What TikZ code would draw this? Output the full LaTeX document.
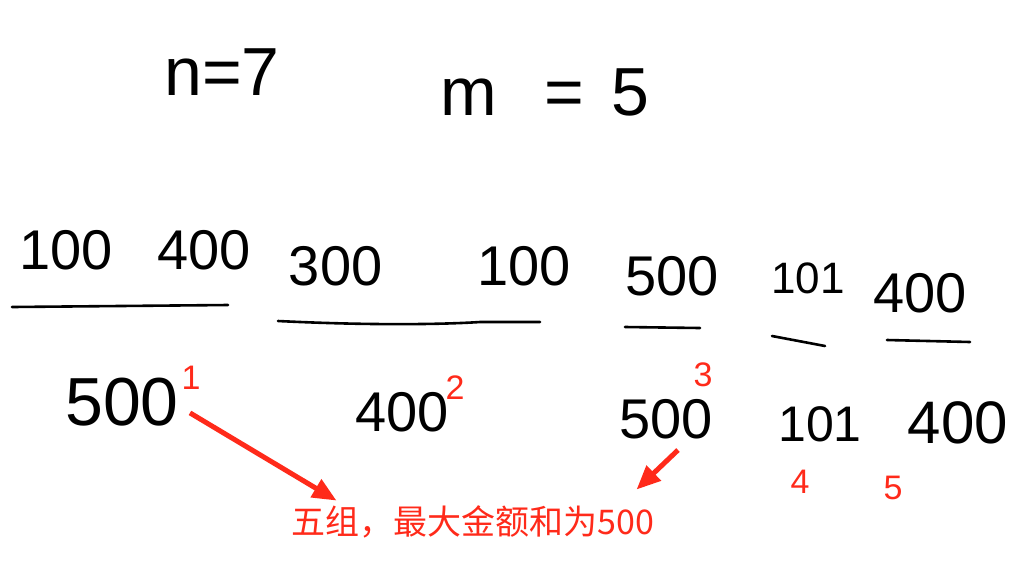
\documentclass[tikz,border=0pt]{standalone}
\usepackage{fontspec}
\setmainfont{Liberation Sans}
\newfontfamily\cjk{Noto Sans CJK SC}
\usetikzlibrary{arrows.meta,positioning}
\definecolor{markred}{HTML}{FF2A1A}

\begin{document}
\begin{tikzpicture}[x=1pt,y=-1pt, every node/.style={inner sep=0pt},
      hand/.style={font=\fontsize{56}{60}\selectfont},
      bighand/.style={font=\fontsize{68}{72}\selectfont},
      groupno/.style={text=markred,font=\fontsize{34}{36}\selectfont},
      stroke/.style={line width=2.6pt,line cap=round,line join=round},
      redarrow/.style={-{Triangle[length=24pt,width=20pt]},markred,line width=5pt}]
    \useasboundingbox[fill=white] (0,0) rectangle (1030,574);
    % header
    \node[bighand] (n7) at (222,72) {n=7};
    \node[bighand] (m5) at (545,92) {m\hspace{.7em}=\hspace{.4em}5};
    % input row, one underline per group
    \node[hand] (g1) at (135,250) {100\hspace{.8em}400};
    \node[hand] (g2) at (430,266) {300\hspace{1.7em}100};
    \node[hand] (g3) at (672,276) {500};
    \node[hand,font=\fontsize{44}{48}\selectfont] (g4) at (808,278) {101};
    \node[hand] (g5) at (920,293) {400};
    \draw[stroke] (12,307) -- (228,305);
    \draw[stroke] (278,321) .. controls (380,326) and (450,324) .. (480,322) -- (540,322);
    \draw[stroke] (625,327) -- (700,328);
    \draw[stroke] (772,336) -- (825,346);
    \draw[stroke] (887,340) -- (970,342);
    % sums of the groups
    \node[bighand] (s1) at (122,402) {500};
    \node[hand] (s2) at (402,412) {400};
    \node[hand] (s3) at (666,419) {500};
    \node[hand,font=\fontsize{50}{54}\selectfont] (s4) at (820,424) {101};
    \node[hand,font=\fontsize{60}{64}\selectfont] (s5) at (958,423) {400};
    \node[groupno] (n1) at (191,378) {1};
    \node[groupno] (n2) at (455,388) {2};
    \node[groupno] (n3) at (703,375) {3};
    \node[groupno] (n4) at (800,482) {4};
    \node[groupno] (n5) at (893,488) {5};
    \node[text=markred,font=\cjk\fontsize{34}{38}\selectfont] (res) at (473,522) {五组，最大金额和为500};
    \draw[redarrow] ([xshift=-1,yshift=-23]n1.south) -- ([xshift=45,yshift=5]res.north west);
    \draw[redarrow] ([xshift=12,yshift=-11]s3.south) -- ([xshift=-18,yshift=16]res.north east);
  \end{tikzpicture}
\end{document}
